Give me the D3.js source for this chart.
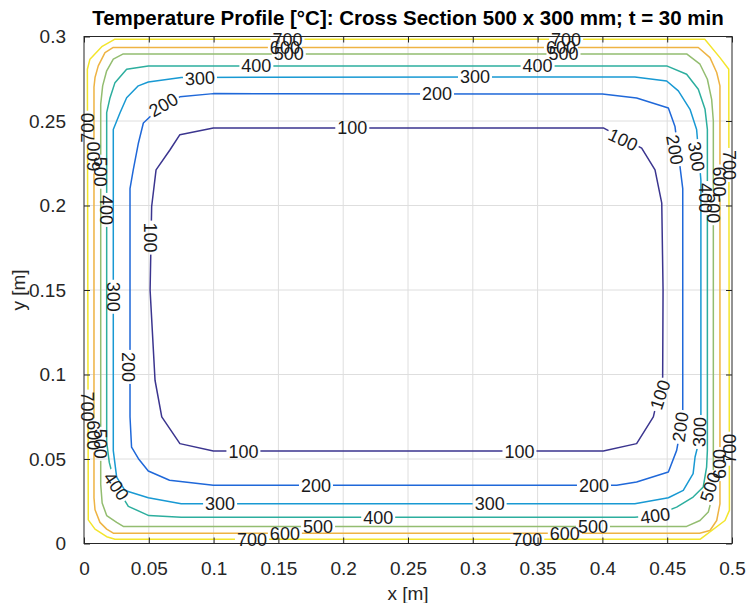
<!DOCTYPE html>
<html>
<head>
<meta charset="utf-8">
<script src="https://cdn.jsdelivr.net/npm/d3@7"></script>
<style>
  body { margin: 0; background: #fff; }
  text { font-family: "Liberation Sans", Arial, Helvetica, sans-serif; }
</style>
</head>
<body>
<svg id="chart" width="746" height="603"></svg>
<script>
// Isotherm levels [°C] and their parula-style colours
const levels = [100, 200, 300, 400, 500, 600, 700];
const levelColors = ["#3b358f", "#1f68d9", "#1899d3", "#2cae9e", "#93bd70", "#eeb343", "#f3e52c"];

// Isotherm traces, [x (m), y (m)] vertices of each closed loop
const contour100 = [[0.0998,0.2459],[0.4007,0.2459],[0.4303,0.234],[0.4406,0.2211],[0.4458,0.2014],[0.4468,0.15],[0.4465,0.0986],[0.4393,0.0749],[0.4264,0.0591],[0.4007,0.0547],[0.0998,0.0547],[0.074,0.0591],[0.06,0.0749],[0.0548,0.0966],[0.051,0.15],[0.0522,0.1994],[0.0556,0.2211],[0.0664,0.233],[0.074,0.2419]];
const contour200 = [[0.0998,0.2662],[0.4,0.266],[0.4264,0.2636],[0.4509,0.2577],[0.456,0.2468],[0.462,0.21],[0.462,0.075],[0.4573,0.0551],[0.4509,0.0423],[0.4264,0.0364],[0.411,0.0344],[0.0998,0.0344],[0.066,0.0374],[0.0496,0.0429],[0.042,0.0502],[0.0367,0.057],[0.0355,0.075],[0.0355,0.21],[0.038,0.2211],[0.042,0.237],[0.0458,0.2488],[0.06,0.259],[0.074,0.2643]];
const contour300 = [[0.075,0.2758],[0.425,0.2761],[0.4496,0.2737],[0.4586,0.2678],[0.4676,0.2569],[0.4727,0.245],[0.476,0.215],[0.476,0.065],[0.4715,0.0512],[0.47,0.0413],[0.4624,0.0314],[0.4509,0.0271],[0.425,0.0235],[0.075,0.0235],[0.0496,0.0271],[0.0316,0.0314],[0.0252,0.0393],[0.0226,0.055],[0.0226,0.245],[0.0278,0.2549],[0.0329,0.2638],[0.0419,0.2708],[0.0496,0.2731]];
const contour400 = [[0.0496,0.2826],[0.4496,0.2826],[0.465,0.2777],[0.474,0.2688],[0.4792,0.2569],[0.481,0.245],[0.481,0.055],[0.4804,0.0452],[0.4778,0.0334],[0.47,0.0275],[0.4573,0.0215],[0.44,0.0165],[0.425,0.0156],[0.075,0.0156],[0.05,0.0165],[0.0342,0.022],[0.0239,0.035],[0.0195,0.048],[0.0175,0.06],[0.0175,0.255],[0.0201,0.2638],[0.0239,0.2727],[0.0329,0.2806]];
const contour500 = [[0.0303,0.2897],[0.465,0.2897],[0.4753,0.2836],[0.481,0.2747],[0.4843,0.2628],[0.4856,0.25],[0.4856,0.03],[0.4817,0.0186],[0.4753,0.0136],[0.465,0.0101],[0.0303,0.0101],[0.0252,0.0125],[0.0175,0.0165],[0.014,0.024],[0.0129,0.035],[0.0129,0.26],[0.0144,0.2708],[0.0175,0.2797],[0.0226,0.2866]];
const contour600 = [[0.0226,0.2935],[0.474,0.2935],[0.483,0.2875],[0.4882,0.2787],[0.4907,0.2708],[0.4907,0.0235],[0.4882,0.0136],[0.483,0.0077],[0.475,0.0061],[0.0226,0.0061],[0.0175,0.0085],[0.0123,0.0125],[0.0085,0.02],[0.0077,0.027],[0.0077,0.27],[0.0085,0.2757],[0.011,0.2826],[0.0162,0.2905]];
const contour700 = [[0.0239,0.2984],[0.479,0.2984],[0.4907,0.2875],[0.4975,0.2806],[0.498,0.0196],[0.4946,0.0136],[0.4753,0.0025],[0.0239,0.0025],[0.0175,0.004],[0.0085,0.0085],[0.0033,0.014],[0.0026,0.2806],[0.0046,0.2866],[0.0137,0.294]];

// Inline labels: [x (m), y (m), text angle (deg)]
const labels100 = [[0.207,0.2459,0],[0.416,0.239,25],[0.051,0.181,90],[0.123,0.0547,0],[0.336,0.0547,0],[0.4444,0.088,-72]];
const labels200 = [[0.0612,0.2597,-30],[0.2724,0.266,0],[0.456,0.233,80],[0.0342,0.1045,90],[0.179,0.0344,0],[0.3935,0.0344,0],[0.46,0.069,-82]];
const labels300 = [[0.0895,0.2755,-3],[0.3017,0.2761,0],[0.4727,0.229,80],[0.0226,0.146,90],[0.105,0.0235,0],[0.313,0.0235,0],[0.4748,0.066,-88]];
const labels400 = [[0.133,0.2826,0],[0.35,0.2826,0],[0.4792,0.2044,90],[0.0175,0.1974,90],[0.025,0.034,55],[0.227,0.0156,0],[0.4407,0.0166,-8]];
const labels500 = [[0.158,0.2897,0],[0.37,0.2897,0],[0.0129,0.22,90],[0.0129,0.059,90],[0.4856,0.1984,90],[0.483,0.0334,-72],[0.1806,0.0101,0],[0.3927,0.0101,0]];
const labels600 = [[0.155,0.2935,0],[0.368,0.2935,0],[0.0077,0.229,-90],[0.0077,0.064,90],[0.4907,0.2142,90],[0.4907,0.047,-90],[0.155,0.0061,0],[0.371,0.0061,0]];
const labels700 = [[0.157,0.2984,0],[0.372,0.2984,0],[0.0026,0.246,-90],[0.0026,0.081,90],[0.498,0.224,90],[0.498,0.0561,-90],[0.1296,0.0025,0],[0.342,0.0025,0]];

const contours = [contour100, contour200, contour300, contour400, contour500, contour600, contour700];
const labelSets = [labels100, labels200, labels300, labels400, labels500, labels600, labels700];

// Axis ticks
const xTicks = [0, 0.05, 0.1, 0.15, 0.2, 0.25, 0.3, 0.35, 0.4, 0.45, 0.5];
const yTicks = [0, 0.05, 0.1, 0.15, 0.2, 0.25, 0.3];

const titleText = "Temperature Profile [°C]: Cross Section 500 x 300 mm; t = 30 min";
const xLabel = "x [m]";
const yLabel = "y [m]";

// ---- layout ----
const W = 746, H = 603;
const plot = { left: 84, right: 732, top: 36.5, bottom: 543.5 };
const axisColor = "#262626";
const tickFont = 19, labelFont = 18;

const svg = d3.select("#chart");
const x = d3.scaleLinear().domain([0, 0.5]).range([plot.left, plot.right]);
const y = d3.scaleLinear().domain([0, 0.3]).range([plot.bottom, plot.top]);

// grid
const grid = svg.append("g").attr("stroke", "#dedede").attr("stroke-width", 1);
grid.selectAll("line.gx").data(xTicks.slice(1, -1)).join("line")
  .attr("x1", d => x(d)).attr("x2", d => x(d))
  .attr("y1", plot.top).attr("y2", plot.bottom);
grid.selectAll("line.gy").data(yTicks.slice(1, -1)).join("line")
  .attr("y1", d => y(d)).attr("y2", d => y(d))
  .attr("x1", plot.left).attr("x2", plot.right);

// masks to break each isotherm where its labels sit
const defs = svg.append("defs");
const gapW = 34, gapH = 15;
labelSets.forEach((set, i) => {
  const m = defs.append("mask").attr("id", "gap" + i)
    .attr("maskUnits", "userSpaceOnUse")
    .attr("x", 0).attr("y", 0).attr("width", W).attr("height", H);
  m.append("rect").attr("width", W).attr("height", H).attr("fill", "#fff");
  m.selectAll("rect.g").data(set).join("rect")
    .attr("x", -gapW / 2).attr("y", -gapH / 2)
    .attr("width", gapW).attr("height", gapH).attr("fill", "#000")
    .attr("transform", d => `translate(${x(d[0])},${y(d[1])}) rotate(${d[2]})`);
});

// isotherm lines
const line = d3.line().x(d => x(d[0])).y(d => y(d[1])).curve(d3.curveLinearClosed);
svg.append("g").selectAll("path").data(contours).join("path")
  .attr("d", d => line(d))
  .attr("fill", "none")
  .attr("stroke", (d, i) => levelColors[i])
  .attr("stroke-width", 1.5)
  .attr("stroke-linejoin", "round")
  .attr("mask", (d, i) => `url(#gap${i})`);

// axes box
svg.append("rect")
  .attr("x", plot.left).attr("y", plot.top)
  .attr("width", plot.right - plot.left).attr("height", plot.bottom - plot.top)
  .attr("fill", "none").attr("stroke", axisColor).attr("stroke-width", 1);

// axes with inward ticks
const xAxis = svg.append("g").attr("transform", `translate(0,${plot.bottom})`)
  .call(d3.axisBottom(x).tickValues(xTicks).tickFormat(d3.format("")).tickSize(-6).tickPadding(18));
const xAxisTop = svg.append("g").attr("transform", `translate(0,${plot.top})`)
  .call(d3.axisTop(x).tickValues(xTicks).tickFormat("").tickSize(-6));
const yAxis = svg.append("g").attr("transform", `translate(${plot.left},0)`)
  .call(d3.axisLeft(y).tickValues(yTicks).tickFormat(d3.format("")).tickSize(-6).tickPadding(18));
const yAxisRight = svg.append("g").attr("transform", `translate(${plot.right},0)`)
  .call(d3.axisRight(y).tickValues(yTicks).tickFormat("").tickSize(-6));
[xAxis, xAxisTop, yAxis, yAxisRight].forEach(g => {
  g.select(".domain").remove();
  g.selectAll(".tick line").attr("stroke", axisColor);
  g.selectAll("text").attr("fill", axisColor).attr("font-size", tickFont)
    .attr("font-family", "Liberation Sans, Arial, sans-serif");
});

// contour labels
const labelG = svg.append("g");
labelSets.forEach((set, i) => {
  labelG.selectAll(null).data(set).join("text")
    .attr("transform", d => `translate(${x(d[0])},${y(d[1])}) rotate(${d[2]})`)
    .attr("text-anchor", "middle")
    .attr("dy", "0.36em")
    .attr("font-size", labelFont)
    .attr("fill", "#1a1a1a")
    .text(levels[i]);
});

// title and axis labels
svg.append("text")
  .attr("x", (plot.left + plot.right) / 2).attr("y", 25)
  .attr("text-anchor", "middle").attr("font-weight", "bold")
  .attr("font-size", 20.5).attr("fill", "#000")
  .text(titleText);
svg.append("text")
  .attr("x", (plot.left + plot.right) / 2).attr("y", 600)
  .attr("text-anchor", "middle").attr("font-size", tickFont).attr("fill", axisColor)
  .text(xLabel);
svg.append("text")
  .attr("transform", `translate(25,${(plot.top + plot.bottom) / 2}) rotate(-90)`)
  .attr("text-anchor", "middle").attr("font-size", tickFont).attr("fill", axisColor)
  .text(yLabel);
</script>
</body>
</html>
